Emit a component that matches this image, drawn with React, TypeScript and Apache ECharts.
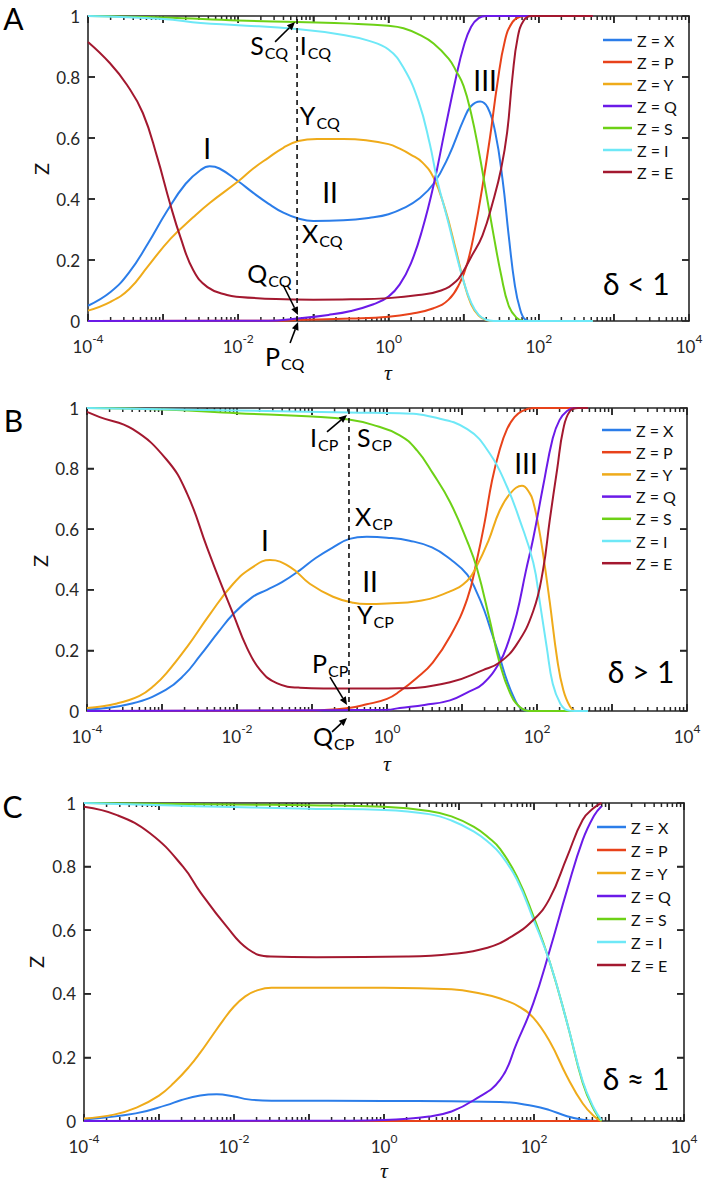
import React, { useEffect, useRef } from 'react';
import * as echarts from 'echarts';

const FONT = 'Lato, "Noto Sans", "DejaVu Sans", sans-serif';
const SERIF = '"Liberation Serif", "DejaVu Serif", serif';
const AXIS_COLOR = '#262626';
const TAU_MIN = 1e-4;
const TAU_MAX = 1e4;

const SERIES_NAMES = ['Z = X', 'Z = P', 'Z = Y', 'Z = Q', 'Z = S', 'Z = I', 'Z = E'];
const SERIES_COLORS = ['#2B7DE9', '#E8421A', '#EFAB1A', '#6B1AE8', '#6DD116', '#6EE8F7', '#A3182F'];

// ---------- Panel A (delta < 1): [log10(tau), Z] ----------
const A_X = [[-4, 0.05], [-3.7, 0.095], [-3.45, 0.16], [-3.2, 0.255], [-2.95, 0.36], [-2.7, 0.45], [-2.5, 0.495], [-2.38, 0.507], [-2.25, 0.5], [-2.0, 0.458], [-1.8, 0.42], [-1.6, 0.385], [-1.4, 0.355], [-1.2, 0.336], [-1.0, 0.328], [-0.6, 0.33], [-0.2, 0.34], [0, 0.35], [0.2, 0.37], [0.4, 0.4], [0.6, 0.45], [0.8, 0.54], [1.0, 0.66], [1.1, 0.705], [1.22, 0.72], [1.32, 0.7], [1.42, 0.62], [1.52, 0.46], [1.6, 0.28], [1.68, 0.12], [1.75, 0.04], [1.82, 0.005], [1.9, 0], [2.72, 0]];
const A_P = [[-4, 0], [-1.5, 0.001], [-1.22, 0.003], [-0.5, 0.008], [0, 0.014], [0.3, 0.024], [0.6, 0.042], [0.8, 0.07], [0.95, 0.125], [1.05, 0.19], [1.15, 0.3], [1.25, 0.44], [1.35, 0.6], [1.45, 0.78], [1.55, 0.92], [1.65, 0.98], [1.75, 0.997], [1.85, 1], [2.72, 1]];
const A_Y = [[-4, 0.034], [-3.7, 0.063], [-3.45, 0.105], [-3.2, 0.18], [-2.9, 0.27], [-2.6, 0.34], [-2.38, 0.387], [-2.0, 0.458], [-1.8, 0.5], [-1.6, 0.535], [-1.4, 0.568], [-1.2, 0.59], [-0.95, 0.597], [-0.6, 0.597], [-0.3, 0.593], [0, 0.58], [0.15, 0.565], [0.3, 0.545], [0.45, 0.52], [0.6, 0.47], [0.75, 0.37], [0.9, 0.23], [1.0, 0.13], [1.1, 0.055], [1.2, 0.018], [1.3, 0.003], [1.4, 0], [2.72, 0]];
const A_Q = [[-4, 0], [-1.6, 0.001], [-1.22, 0.008], [-0.8, 0.02], [-0.5, 0.033], [-0.2, 0.055], [0, 0.08], [0.15, 0.12], [0.3, 0.19], [0.45, 0.3], [0.6, 0.445], [0.75, 0.625], [0.9, 0.8], [1.0, 0.9], [1.1, 0.965], [1.2, 0.993], [1.3, 1], [2.72, 1]];
const A_S = [[-4, 1], [-3, 0.995], [-2, 0.985], [-1.22, 0.98], [-0.5, 0.975], [0, 0.968], [0.2, 0.96], [0.4, 0.94], [0.6, 0.91], [0.8, 0.86], [0.9, 0.82], [1.0, 0.77], [1.1, 0.68], [1.2, 0.56], [1.3, 0.42], [1.4, 0.28], [1.5, 0.15], [1.6, 0.05], [1.7, 0.012], [1.8, 0], [2.72, 0]];
const A_I = [[-4, 1], [-3, 0.99], [-2.5, 0.977], [-2, 0.97], [-1.22, 0.957], [-0.6, 0.938], [-0.28, 0.92], [0, 0.89], [0.2, 0.83], [0.4, 0.72], [0.55, 0.58], [0.65, 0.46], [0.8, 0.32], [0.9, 0.22], [1.0, 0.13], [1.1, 0.06], [1.2, 0.02], [1.3, 0.004], [1.4, 0], [2.72, 0]];
const A_E = [[-4, 0.915], [-3.71, 0.846], [-3.48, 0.774], [-3.27, 0.682], [-3.08, 0.538], [-2.91, 0.387], [-2.77, 0.275], [-2.6, 0.167], [-2.41, 0.111], [-2.15, 0.085], [-1.98, 0.079], [-1.5, 0.072], [-1, 0.07], [-0.5, 0.071], [0, 0.075], [0.4, 0.085], [0.7, 0.1], [0.9, 0.13], [1.0, 0.165], [1.1, 0.21], [1.25, 0.28], [1.4, 0.4], [1.5, 0.5], [1.58, 0.62], [1.65, 0.8], [1.72, 0.93], [1.8, 0.985], [1.9, 1], [2.72, 1]];
const A_DASH = -1.217;
const A_LABELS = [
  { t: -1.84, z: 0.9, m: 'S', s: 'CQ' },
  { t: -1.18, z: 0.9, m: 'I', s: 'CQ' },
  { t: -1.18, z: 0.669, m: 'Y', s: 'CQ' },
  { t: -1.15, z: 0.282, m: 'X', s: 'CQ' },
  { t: -1.88, z: 0.154, m: 'Q', s: 'CQ' },
  { t: -1.643, z: -0.121, m: 'P', s: 'CQ' },
];
const A_ROMAN = [
  { t: -2.415, z: 0.567, m: 'I' },
  { t: -0.777, z: 0.423, m: 'II' },
  { t: 1.286, z: 0.79, m: 'III' },
];
const A_ARROWS = [[-1.51, 0.915, -1.244, 0.98], [-1.403, 0.118, -1.204, 0.02], [-1.31, -0.072, -1.204, -0.003]];
const A_DELTA = { t: 3.3, z: 0.125, m: 'δ < 1' };

// ---------- Panel B (delta > 1) ----------
const B_X = [[-4, 0.005], [-3.4, 0.025], [-2.95, 0.07], [-2.7, 0.12], [-2.5, 0.18], [-2.25, 0.26], [-2.05, 0.32], [-1.8, 0.375], [-1.6, 0.4], [-1.4, 0.425], [-1.16, 0.465], [-0.95, 0.505], [-0.72, 0.54], [-0.5, 0.568], [-0.27, 0.575], [0, 0.572], [0.3, 0.562], [0.6, 0.54], [0.85, 0.5], [1.07, 0.45], [1.2, 0.39], [1.3, 0.33], [1.4, 0.255], [1.5, 0.18], [1.6, 0.1], [1.7, 0.04], [1.78, 0.01], [1.9, 0], [2.68, 0]];
const B_P = [[-4, 0], [-1.0, 0.002], [-0.51, 0.01], [-0.27, 0.022], [0, 0.04], [0.17, 0.065], [0.4, 0.11], [0.61, 0.16], [0.85, 0.25], [1.07, 0.37], [1.2, 0.5], [1.3, 0.62], [1.4, 0.76], [1.5, 0.86], [1.6, 0.93], [1.7, 0.97], [1.8, 0.99], [1.95, 1], [2.68, 1]];
const B_Y = [[-4, 0.01], [-3.6, 0.025], [-3.3, 0.05], [-3.1, 0.085], [-2.94, 0.125], [-2.67, 0.21], [-2.36, 0.32], [-2.05, 0.42], [-1.79, 0.475], [-1.56, 0.498], [-1.29, 0.475], [-1.03, 0.42], [-0.72, 0.377], [-0.45, 0.357], [-0.27, 0.353], [0, 0.355], [0.4, 0.362], [0.84, 0.395], [1.07, 0.43], [1.2, 0.48], [1.35, 0.56], [1.5, 0.66], [1.65, 0.72], [1.8, 0.743], [1.9, 0.72], [1.95, 0.69], [2.02, 0.61], [2.08, 0.52], [2.17, 0.36], [2.27, 0.17], [2.35, 0.07], [2.44, 0.015], [2.52, 0], [2.68, 0]];
const B_Q = [[-4, 0], [0, 0.004], [0.17, 0.01], [0.5, 0.02], [0.84, 0.035], [1.1, 0.065], [1.28, 0.09], [1.5, 0.16], [1.62, 0.23], [1.73, 0.32], [1.85, 0.46], [1.95, 0.57], [2.08, 0.74], [2.21, 0.9], [2.3, 0.96], [2.4, 0.99], [2.5, 1], [2.68, 1]];
const B_S = [[-4, 1], [-3, 0.995], [-2, 0.983], [-1, 0.972], [-0.51, 0.962], [-0.2, 0.945], [0.17, 0.91], [0.4, 0.86], [0.61, 0.785], [0.84, 0.69], [1.07, 0.56], [1.2, 0.47], [1.37, 0.3], [1.5, 0.16], [1.64, 0.06], [1.77, 0.013], [1.9, 0], [2.68, 0]];
const B_I = [[-4, 1], [-2, 0.992], [-0.51, 0.985], [0.17, 0.983], [0.61, 0.97], [1.07, 0.93], [1.37, 0.85], [1.6, 0.74], [1.77, 0.63], [1.95, 0.49], [2.04, 0.355], [2.13, 0.21], [2.21, 0.09], [2.31, 0.025], [2.4, 0.003], [2.5, 0], [2.68, 0]];
const B_E = [[-4, 0.987], [-3.83, 0.97], [-3.39, 0.93], [-2.94, 0.83], [-2.67, 0.72], [-2.4, 0.54], [-2.23, 0.43], [-2.05, 0.32], [-1.87, 0.21], [-1.69, 0.135], [-1.47, 0.092], [-1.16, 0.077], [-0.5, 0.074], [0.17, 0.075], [0.84, 0.095], [1.28, 0.135], [1.5, 0.16], [1.73, 0.22], [1.95, 0.33], [2.08, 0.465], [2.17, 0.63], [2.27, 0.8], [2.35, 0.93], [2.44, 0.99], [2.55, 1], [2.68, 1]];
const B_DASH = -0.507;
const B_LABELS = [
  { t: -1.027, z: 0.898, m: 'I', s: 'CP' },
  { t: -0.4, z: 0.898, m: 'S', s: 'CP' },
  { t: -0.427, z: 0.64, m: 'X', s: 'CP' },
  { t: -0.4, z: 0.314, m: 'Y', s: 'CP' },
  { t: -1.0, z: 0.155, m: 'P', s: 'CP' },
  { t: -0.987, z: -0.089, m: 'Q', s: 'CP' },
];
const B_ROMAN = [
  { t: -1.627, z: 0.564, m: 'I' },
  { t: -0.227, z: 0.429, m: 'II' },
  { t: 1.853, z: 0.818, m: 'III' },
];
const B_ARROWS = [[-0.8, 0.921, -0.533, 0.977], [-0.76, 0.112, -0.533, 0.02], [-0.733, -0.069, -0.533, -0.023]];
const B_DELTA = { t: 3.387, z: 0.132, m: 'δ > 1' };

// ---------- Panel C (delta ≈ 1) ----------
const C_X = [[-4, 0.005], [-3.31, 0.024], [-2.9, 0.05], [-2.7, 0.066], [-2.45, 0.08], [-2.23, 0.084], [-2.0, 0.077], [-1.81, 0.068], [-1.5, 0.064], [0, 0.063], [0.9, 0.062], [1.55, 0.06], [1.99, 0.047], [2.2, 0.035], [2.44, 0.015], [2.65, 0.004], [2.9, 0]];
const C_P = [[-4, 0], [2.9, 0]];
const C_Y = [[-4, 0.008], [-3.6, 0.02], [-3.3, 0.042], [-3.0, 0.08], [-2.8, 0.12], [-2.6, 0.17], [-2.45, 0.215], [-2.3, 0.265], [-2.15, 0.315], [-2.0, 0.36], [-1.85, 0.392], [-1.7, 0.41], [-1.5, 0.419], [0, 0.419], [0.9, 0.414], [1.3, 0.4], [1.55, 0.385], [1.8, 0.36], [1.99, 0.325], [2.21, 0.25], [2.44, 0.14], [2.65, 0.055], [2.8, 0.015], [2.9, 0]];
const C_Q = [[-4, 0], [-0.5, 0.001], [0, 0.003], [0.6, 0.014], [0.9, 0.03], [1.2, 0.066], [1.55, 0.13], [1.77, 0.245], [1.99, 0.37], [2.21, 0.537], [2.44, 0.726], [2.65, 0.884], [2.8, 0.96], [2.9, 0.99]];
const C_S = [[-4, 1], [-2, 0.995], [-1, 0.993], [0, 0.988], [0.6, 0.975], [0.9, 0.958], [1.2, 0.925], [1.4, 0.89], [1.55, 0.855], [1.77, 0.77], [1.99, 0.645], [2.21, 0.5], [2.44, 0.31], [2.65, 0.12], [2.8, 0.035], [2.9, 0]];
const C_I = [[-4, 1], [-2.5, 0.99], [-1, 0.982], [0, 0.978], [0.6, 0.965], [0.9, 0.945], [1.2, 0.91], [1.4, 0.875], [1.55, 0.84], [1.77, 0.76], [1.99, 0.635], [2.21, 0.5], [2.44, 0.31], [2.65, 0.125], [2.8, 0.04], [2.9, 0.003]];
const C_E = [[-4, 0.988], [-3.56, 0.962], [-3.12, 0.905], [-2.68, 0.8], [-2.45, 0.72], [-2.11, 0.615], [-1.81, 0.54], [-1.51, 0.517], [-0.9, 0.515], [0.3, 0.517], [0.9, 0.525], [1.38, 0.545], [1.7, 0.58], [1.99, 0.632], [2.21, 0.7], [2.44, 0.83], [2.65, 0.947], [2.8, 0.985], [2.9, 1]];
const C_DELTA = { t: 3.36, z: 0.135, m: 'δ ≈ 1' };

// ---------- layout ----------
const GRIDS = [
  { left: 88, top: 16, width: 601, height: 305 },
  { left: 87, top: 408, width: 600, height: 303 },
  { left: 84, top: 803, width: 600, height: 318 },
];
const LEGENDS = [
  { left: 603, top: 31, gap: 4 },
  { left: 602, top: 421, gap: 4.2 },
  { left: 597, top: 818, gap: 5 },
];
const LETTERS = [
  { text: 'A', x: 13.5, y: 18 },
  { text: 'B', x: 13.5, y: 420 },
  { text: 'C', x: 12.5, y: 806 },
];
const Y_TITLES = [
  { x: 40.5, y: 169 },
  { x: 39.5, y: 561 },
  { x: 36, y: 962 },
];
const X_TITLES = [
  { x: 388, y: 372 },
  { x: 387, y: 763 },
  { x: 384, y: 1170 },
];

const PANELS = [
  { curves: [A_X, A_P, A_Y, A_Q, A_S, A_I, A_E], dash: A_DASH, labels: A_LABELS, romans: [...A_ROMAN, A_DELTA], arrows: A_ARROWS },
  { curves: [B_X, B_P, B_Y, B_Q, B_S, B_I, B_E], dash: B_DASH, labels: B_LABELS, romans: [...B_ROMAN, B_DELTA], arrows: B_ARROWS },
  { curves: [C_X, C_P, C_Y, C_Q, C_S, C_I, C_E], dash: null, labels: [], romans: [C_DELTA], arrows: [] },
];

// axis tick structure (MATLAB-like log axis: decades + 2..9 minor ticks)
const MAJOR_DECADES = [-4, -3, -2, -1, 0, 1, 2, 3, 4];
const MINOR_MANTISSAS = [2, 3, 4, 5, 6, 7, 8, 9];
const MINOR_DECADES = [-4, -3, -2, -1, 0, 1, 2, 3];
const Y_TICKS = [0.2, 0.4, 0.6, 0.8];
const MAJOR_LEN = 7;
const MINOR_LEN = 4;

const tau = (lt: number) => Math.pow(10, lt);

const LABEL_RICH = {
  m: { fontSize: 25, lineHeight: 26, fontFamily: FONT, fill: '#000', color: '#000', verticalAlign: 'top' },
  s: { fontSize: 16, fontFamily: FONT, fill: '#000', color: '#000', verticalAlign: 'top', padding: [12, 0, 0, 1] },
  r: { fontSize: 28, fontFamily: FONT, fill: '#000', color: '#000' },
  d: { fontSize: 30, fontFamily: FONT, fill: '#000', color: '#000' },
};

// tick segments expressed in the axes' own data units, separated by gaps
function tickData(g: { width: number; height: number }) {
  const out: any[] = [];
  const hMaj = MAJOR_LEN / g.height;
  const hMin = MINOR_LEN / g.height;
  const kx = Math.pow(10, MAJOR_LEN / (g.width / 8));
  MAJOR_DECADES.forEach((d) => {
    const t = tau(d);
    out.push([t, 0], [t, hMaj], [t, null]);
    out.push([t, 1], [t, 1 - hMaj], [t, null]);
  });
  MINOR_DECADES.forEach((d) => {
    MINOR_MANTISSAS.forEach((m) => {
      const t = m * tau(d);
      out.push([t, 0], [t, hMin], [t, null]);
      out.push([t, 1], [t, 1 - hMin], [t, null]);
    });
  });
  Y_TICKS.forEach((z) => {
    out.push([TAU_MIN, z], [TAU_MIN * kx, z], [TAU_MIN * kx, null]);
    out.push([TAU_MAX, z], [TAU_MAX / kx, z], [TAU_MAX / kx, null]);
  });
  return out;
}

function buildOption() {
  const xAxis: any[] = [];
  const yAxis: any[] = [];
  const series: any[] = [];

  GRIDS.forEach((g, i) => {
    const baseX = {
      type: 'log', logBase: 10, gridIndex: i, min: TAU_MIN, max: TAU_MAX,
      axisLine: { show: true, onZero: false, lineStyle: { color: AXIS_COLOR, width: 1.6 } },
      axisTick: { show: true, inside: true, length: MAJOR_LEN, lineStyle: { color: AXIS_COLOR, width: 1.5 } },
      splitLine: { show: false },
    };
    xAxis.push({
      ...baseX, position: 'bottom',
      axisLabel: {
        margin: 10, color: AXIS_COLOR,
        formatter: (v: number) => {
          const e = Math.round(Math.log10(v));
          if (Math.abs(e) % 2 === 1) return '';
          return `{b|10}{p|${e}}`;
        },
        rich: {
          b: { fontSize: 17, fontFamily: FONT, color: AXIS_COLOR, verticalAlign: 'top', padding: [7, 0, 0, 0] },
          p: { fontSize: 12, fontFamily: FONT, color: AXIS_COLOR, verticalAlign: 'top', padding: [1, 0, 0, 0] },
        },
      },
    });
    xAxis.push({ ...baseX, position: 'top', axisLabel: { show: false } });
    const baseY = {
      type: 'value', gridIndex: i, min: 0, max: 1, interval: 0.2,
      axisLine: { show: true, onZero: false, lineStyle: { color: AXIS_COLOR, width: 1.6 } },
      axisTick: { show: true, inside: true, length: MAJOR_LEN, lineStyle: { color: AXIS_COLOR, width: 1.5 } },
      splitLine: { show: false },
    };
    yAxis.push({
      ...baseY, position: 'left',
      axisLabel: { fontSize: 17, margin: 8, color: AXIS_COLOR, fontFamily: FONT },
    });
    yAxis.push({ ...baseY, position: 'right', axisLabel: { show: false } });

    const xi = i * 2;
    const yi = i * 2;
    const panel = PANELS[i];

    // frame tick marks as a line series (gaps between segments)
    series.push({
      type: 'line', name: 'ticks' + i, xAxisIndex: xi, yAxisIndex: yi,
      data: tickData(g), connectNulls: false,
      showSymbol: false, symbol: 'none', clip: false, silent: true, smooth: false,
      lineStyle: { color: AXIS_COLOR, width: 1.5 }, z: 2,
    });

    panel.curves.forEach((pts, k) => {
      series.push({
        type: 'line', name: SERIES_NAMES[k], xAxisIndex: xi, yAxisIndex: yi,
        data: pts.map(([lt, z]) => [tau(lt), z]),
        showSymbol: false, symbol: 'none', smooth: 0.45, clip: false,
        lineStyle: { color: SERIES_COLORS[k], width: 2 },
        itemStyle: { color: SERIES_COLORS[k] },
        z: 3,
      });
    });

    if (panel.dash !== null) {
      series.push({
        type: 'line', name: 'dash' + i, xAxisIndex: xi, yAxisIndex: yi,
        data: [[tau(panel.dash), 0], [tau(panel.dash), 1]],
        showSymbol: false, symbol: 'none', clip: false, silent: true,
        lineStyle: { color: '#111', width: 1.6, type: [5, 4] }, z: 4,
      });
    }

    if (panel.arrows.length) {
      series.push({
        type: 'custom', name: 'arrows' + i, xAxisIndex: xi, yAxisIndex: yi, silent: true, z: 6,
        data: panel.arrows.map(([t1, z1, t2, z2]) => [tau(t1), z1, tau(t2), z2]),
        encode: { x: [0, 2], y: [1, 3] },
        renderItem: (params: any, api: any) => {
          const p1 = api.coord([api.value(0), api.value(1)]);
          const p2 = api.coord([api.value(2), api.value(3)]);
          const dx = p2[0] - p1[0];
          const dy = p2[1] - p1[1];
          const len = Math.hypot(dx, dy) || 1;
          const ux = dx / len;
          const uy = dy / len;
          const hl = 8;
          const hw = 3.5;
          const bx = p2[0] - ux * hl;
          const by = p2[1] - uy * hl;
          return {
            type: 'group',
            children: [
              { type: 'line', shape: { x1: p1[0], y1: p1[1], x2: bx, y2: by }, style: { stroke: '#000', lineWidth: 1.6 } },
              { type: 'polygon', shape: { points: [[p2[0], p2[1]], [bx - uy * hw, by + ux * hw], [bx + uy * hw, by - ux * hw]] }, style: { fill: '#000' } },
            ],
          };
        },
      });
    }

    if (panel.labels.length) {
      const labels = panel.labels;
      series.push({
        type: 'custom', name: 'labels' + i, xAxisIndex: xi, yAxisIndex: yi, silent: true, z: 6,
        data: labels.map((l) => [tau(l.t), l.z]),
        renderItem: (params: any, api: any) => {
          const l = labels[params.dataIndex];
          const p = api.coord([api.value(0), api.value(1)]);
          return {
            type: 'text', x: p[0], y: p[1],
            style: { text: `{m|${l.m}}{s|${l.s}}`, rich: LABEL_RICH, align: 'left', verticalAlign: 'middle', fill: '#000' },
          };
        },
      });
    }

    const romans = panel.romans;
    series.push({
      type: 'custom', name: 'roman' + i, xAxisIndex: xi, yAxisIndex: yi, silent: true, z: 6,
      data: romans.map((l) => [tau(l.t), l.z]),
      renderItem: (params: any, api: any) => {
        const l = romans[params.dataIndex];
        const p = api.coord([api.value(0), api.value(1)]);
        const key = l.m.indexOf('δ') >= 0 ? 'd' : 'r';
        return {
          type: 'text', x: p[0], y: p[1],
          style: { text: `{${key}|${l.m}}`, rich: LABEL_RICH, align: 'center', verticalAlign: 'middle', fill: '#000' },
        };
      },
    });
  });

  const graphic: any[] = [];
  LETTERS.forEach((l) => graphic.push({
    type: 'text', x: l.x, y: l.y, silent: true,
    style: { text: l.text, fontSize: 30, fontFamily: FONT, fill: '#000', align: 'center', verticalAlign: 'middle' },
  }));
  Y_TITLES.forEach((p) => graphic.push({
    type: 'text', x: p.x, y: p.y, rotation: Math.PI / 2, silent: true,
    style: { text: 'Z', fontSize: 20, fontFamily: FONT, fill: '#111', align: 'center', verticalAlign: 'middle' },
  }));
  X_TITLES.forEach((p) => graphic.push({
    type: 'text', x: p.x, y: p.y, silent: true,
    style: { text: 'τ', fontSize: 22, fontFamily: SERIF, fontStyle: 'italic', fill: '#111', align: 'center', verticalAlign: 'middle' },
  }));

  return {
    animation: false,
    backgroundColor: '#fff',
    grid: GRIDS.map((g) => ({ left: g.left, top: g.top, width: g.width, height: g.height })),
    xAxis,
    yAxis,
    legend: LEGENDS.map((l) => ({
      data: SERIES_NAMES, orient: 'vertical', left: l.left, top: l.top, itemGap: l.gap,
      itemWidth: 29, itemHeight: 2.5, icon: 'rect', padding: 0, selectedMode: false,
      textStyle: { fontSize: 16, lineHeight: 18, color: '#111', fontFamily: FONT },
    })),
    graphic,
    series,
  };
}

export default function App() {
  const ref = useRef<HTMLDivElement>(null);
  useEffect(() => {
    if (!ref.current) return;
    const chart = echarts.init(ref.current, undefined, { renderer: 'svg' });
    chart.setOption(buildOption() as any);
    return () => chart.dispose();
  }, []);
  return <div ref={ref} style={{ position: 'absolute', left: 0, top: 0, width: 707, height: 1186, background: '#fff' }} />;
}
